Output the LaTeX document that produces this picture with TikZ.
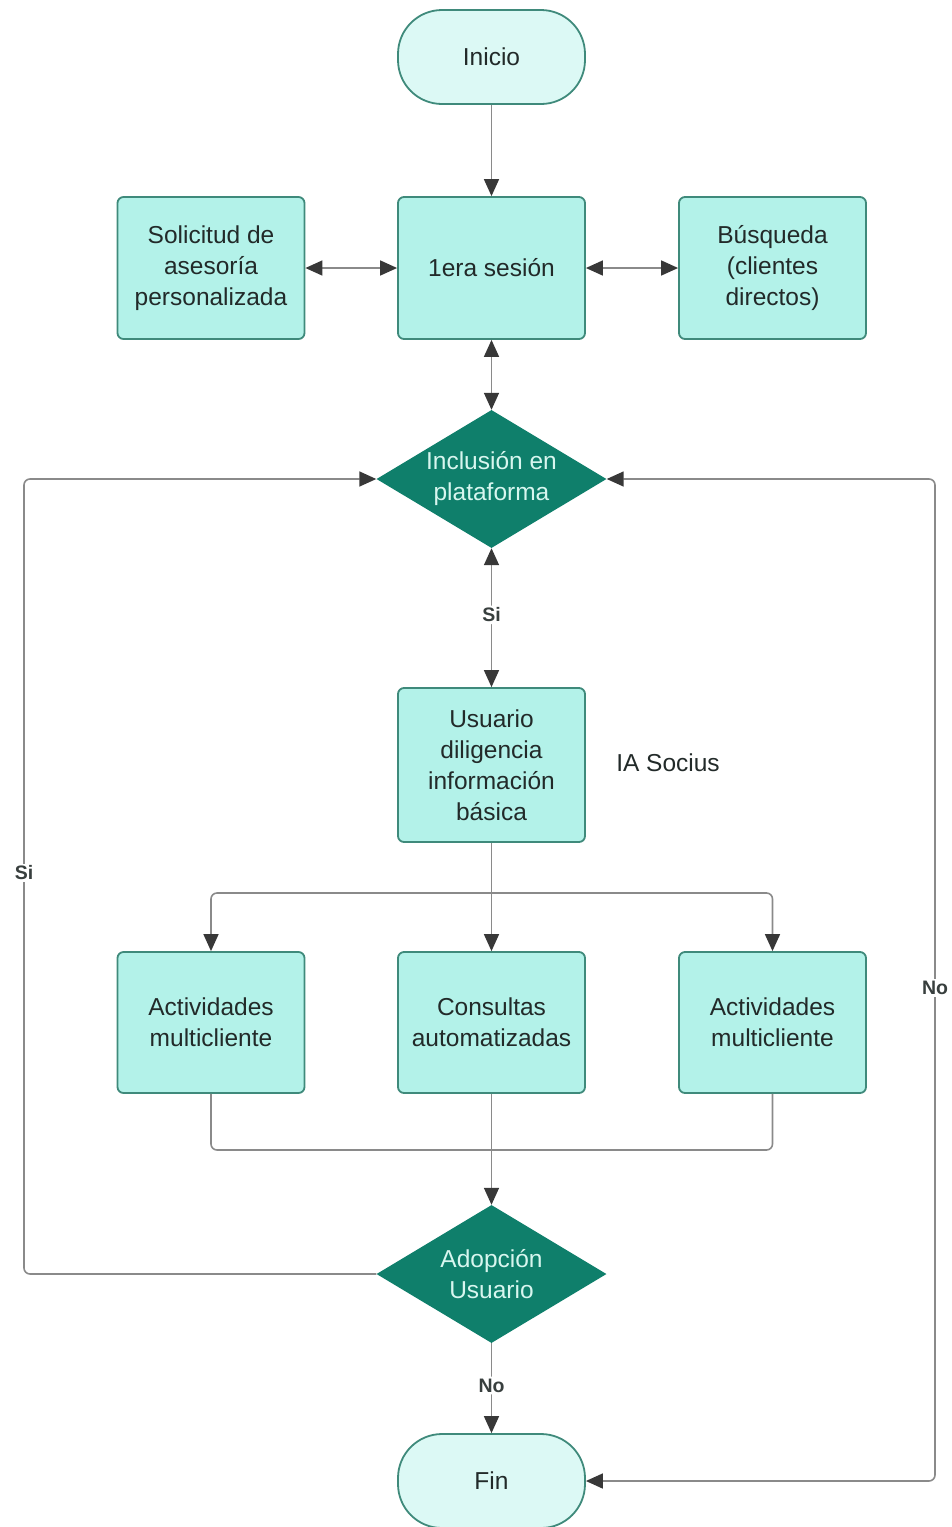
\documentclass[tikz,border=0pt]{standalone}
\usepackage{fontspec}
\setmainfont{Liberation Sans}
\usetikzlibrary{shapes.geometric,arrows.meta}
\definecolor{boxfill}{HTML}{B3F2E9}
\definecolor{boxdraw}{HTML}{3F8A7B}
\definecolor{termfill}{HTML}{DCF9F5}
\definecolor{diafill}{HTML}{0F7F6B}
\definecolor{diatext}{HTML}{D8F6EF}
\definecolor{linec}{HTML}{8A8A8A}
\definecolor{tipc}{HTML}{383838}
\definecolor{txtc}{HTML}{222A29}
\begin{document}
\begin{tikzpicture}[x=1pt,y=-1pt,
  every node/.style={font=\fontsize{24.5}{31}\selectfont, text=txtc, align=center},
  procbox/.style={draw=boxdraw, line width=1.8pt, fill=boxfill, rounded corners=6pt,
    minimum width=187pt, inner sep=0pt},
  termbox/.style={draw=boxdraw, line width=1.8pt, fill=termfill, rounded corners=44pt,
    minimum width=187pt, minimum height=94pt, inner sep=0pt},
  decbox/.style={shape=diamond, fill=diafill, draw=none, minimum width=230pt,
    minimum height=138pt, inner sep=0pt},
  conn/.style={draw=linec, line width=1.6pt, rounded corners=6pt},
  tip/.style={-{Triangle[length=17pt,width=15pt,color=tipc]}},
  dtip/.style={{Triangle[length=17pt,width=15pt,color=tipc]}-{Triangle[length=17pt,width=15pt,color=tipc]}},
  lbl/.style={font=\bfseries\fontsize{19.5}{22}\selectfont, text=txtc!90, fill=white, inner sep=2pt}
]
\useasboundingbox (0,0) rectangle (952,1527);

% nodes
\node[termbox] (inicio) at (491.5,57) {Inicio};
\node[procbox, minimum height=142pt] (ses) at (491.5,268) {1era sesión};
\node[procbox, minimum height=142pt] (sol) at (211,268) {Solicitud de\\asesoría\\personalizada};
\node[procbox, minimum height=142pt] (bus) at (772.5,268) {Búsqueda\\(clientes\\directos)};
\node[decbox, label={[text=diatext]center:{Inclusión en\\plataforma}}] (inc) at (491.5,479) {};
\node[procbox, minimum height=154pt] (usu) at (491.5,765) {Usuario\\diligencia\\información\\básica};
\node (ia) at (668,763) {IA Socius};
\node[procbox, minimum height=141pt] (act1) at (211,1022.5) {Actividades\\multicliente};
\node[procbox, minimum height=141pt] (cons) at (491.5,1022.5) {Consultas\\automatizadas};
\node[procbox, minimum height=141pt] (act2) at (772.5,1022.5) {Actividades\\multicliente};
\node[decbox, label={[text=diatext]center:{Adopción\\Usuario}}] (adop) at (491.5,1274) {};
\node[termbox] (fin) at (491.5,1481) {Fin};

% coordinates
\coordinate (br) at (491.5,893);
\coordinate (mg) at (491.5,1150);
\coordinate (lx) at (24,0);
\coordinate (rx) at (935,0);

% connectors
\draw[conn, tip] (inicio.south) -- (ses.north);
\draw[conn, dtip] (sol.east) -- (ses.west);
\draw[conn, dtip] (ses.east) -- (bus.west);
\draw[conn, dtip] (ses.south) -- (inc.north);
\draw[conn, dtip] (inc.south) -- node[lbl, pos=0.48] (si1) {Si} (usu.north);

\draw[conn] (usu.south) -- (br);
\draw[conn, tip] (br) -| (act1.north);
\draw[conn, tip] (br) -| (act2.north);
\draw[conn, tip] (br) -- (cons.north);

\draw[conn] (act1.south) |- (mg);
\draw[conn] (act2.south) |- (mg);
\draw[conn] (cons.south) -- (mg);
\draw[conn, tip] (mg) -- (adop.north);

\draw[conn, tip] (adop.west) -- (adop.west -| lx) -- (inc.west -| lx) -- (inc.west);
\node[lbl] (si2) at (24,873) {Si};
\draw[conn, dtip] (inc.east) -- (inc.east -| rx) -- (fin.east -| rx) -- (fin.east);
\node[lbl] (no1) at (935,988) {No};
\draw[conn, tip] (adop.south) -- node[lbl, pos=0.47] (no2) {No} (fin.north);
\end{tikzpicture}
\end{document}
